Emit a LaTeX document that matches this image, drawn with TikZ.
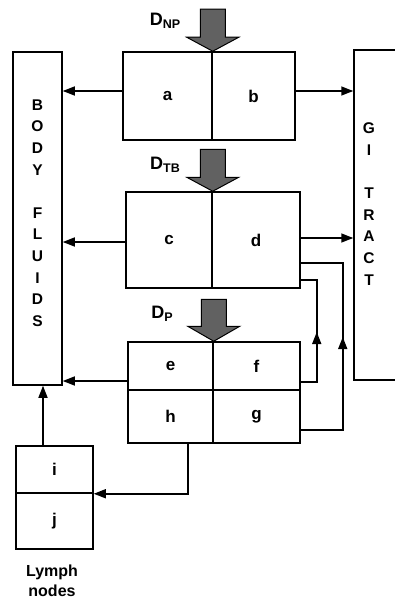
\documentclass[tikz,border=0pt]{standalone}
\usepackage{fontspec}
\setmainfont{Liberation Sans}
\usetikzlibrary{arrows.meta,calc,decorations.markings}
\begin{document}
\begin{tikzpicture}[x=1pt,y=-1pt,
  line width=1.5pt,
  cell/.style={draw, inner sep=0pt, font=\fontsize{17}{17}\selectfont\bfseries},
  arr/.style={-{Triangle[length=12pt,width=9pt]}},
  darr/.style={draw=black, line width=1pt, fill=black!62},
  dlab/.style={inner sep=0pt, font=\fontsize{18}{18}\selectfont\bfseries},
  vtext/.style={inner sep=0pt, align=center, font=\fontsize{15.5}{21.6}\selectfont\bfseries},
  upmark/.style={postaction={decorate, decoration={markings, mark=at position #1 with {\arrow{Triangle[length=12pt,width=9pt]}}}}}
]
\useasboundingbox (0,0) rectangle (394,602);

% Body fluids
\node[cell, minimum width=49pt, minimum height=333pt] (bf) at (37.5,218.5) {};
\node[vtext] (bft) at (37.5,213) {B\\O\\D\\Y\\[21.6pt]F\\L\\U\\I\\D\\S};

% GI tract (open to the right)
\node[cell, minimum width=70pt, minimum height=330pt] (gi) at (389,215) {};
\node[vtext] (git) at (369,204) {G\\I\\[21.6pt]T\\R\\A\\C\\T};

% Box a|b
\node[cell, minimum width=89pt, minimum height=88pt] (a) at (167.5,96) {a};
\node[cell, minimum width=83pt, minimum height=88pt] (b) at (253.5,96) {b};

% Box c|d
\node[cell, minimum width=86pt, minimum height=96pt] (c) at (169,240) {c};
\node[cell, minimum width=88pt, minimum height=96pt] (d) at (256,240) {d};

% Box e f / h g
\node[cell, minimum width=85pt, minimum height=48pt] (e) at (170.5,366) {e};
\node[cell, minimum width=87pt, minimum height=48pt] (f) at (256.5,366) {f};
\node[cell, minimum width=85pt, minimum height=53pt] (h) at (170.5,416.5) {h};
\node[cell, minimum width=87pt, minimum height=53pt] (g) at (256.5,416.5) {g};

% Lymph nodes i / j
\node[cell, minimum width=77pt, minimum height=47pt] (i) at (54.5,469.5) {i};
\node[cell, minimum width=77pt, minimum height=56pt] (j) at (54.5,521) {j};
\node[inner sep=0pt, align=center, font=\fontsize{16}{20}\selectfont\bfseries] (ln) at (52,581) {Lymph\\nodes};

% Dose block arrows
\draw[darr] (a.north east) -- ++(-26,-14) -- ++(13.5,0) -- ++(0,-28) -- ++(25,0) -- ++(0,28) -- ++(13.5,0) -- cycle;
\draw[darr] (c.north east) -- ++(-26,-14) -- ++(13.5,0) -- ++(0,-28) -- ++(25,0) -- ++(0,28) -- ++(13.5,0) -- cycle;
\draw[darr] (e.north east) -- ++(-26,-15) -- ++(13.5,0) -- ++(0,-27) -- ++(25,0) -- ++(0,27) -- ++(13.5,0) -- cycle;
\node[dlab] (dnp) at (165,21) {D\raisebox{-3pt}{\fontsize{12.5}{12.5}\selectfont NP}};
\node[dlab] (dtb) at (165,165) {D\raisebox{-3pt}{\fontsize{12.5}{12.5}\selectfont TB}};
\node[dlab] (dp) at (162,314) {D\raisebox{-3pt}{\fontsize{12.5}{12.5}\selectfont P}};

% Flows to body fluids
\draw[arr] ([yshift=5pt]a.west) -- ([yshift=5pt]a.west -| bf.east);
\draw[arr] ([yshift=-2pt]c.west) -- ([yshift=-2pt]c.west -| bf.east);
\draw[arr] ([yshift=-15pt]e.west) -- ([yshift=-15pt]e.west -| bf.east);

% Flows to GI tract
\draw[arr] ([yshift=5pt]b.east) -- ([yshift=5pt]b.east -| gi.west);
\draw[arr] ([yshift=2pt]d.east) -- ([yshift=2pt]d.east -| gi.west);

% f -> d and g -> d
\coordinate (fo) at ([yshift=-16pt]f.east);
\coordinate (dl) at ([yshift=-40pt]d.east);
\draw[upmark=66pt] (fo) -- ++(16,0) |- (dl);
\coordinate (go) at ([yshift=-13.5pt]g.east);
\coordinate (du) at ([yshift=-23pt]d.east);
\draw[upmark=135pt] (go) -- ++(42,0) |- (du);

% h -> lymph nodes
\coordinate (hs) at ([xshift=17.5pt]h.south);
\draw[arr] (hs) |- (i.south east);

% lymph nodes -> body fluids
\coordinate (it) at ([xshift=-11.5pt]i.north);
\draw[arr] (it) -- (it |- bf.south);
\end{tikzpicture}
\end{document}
